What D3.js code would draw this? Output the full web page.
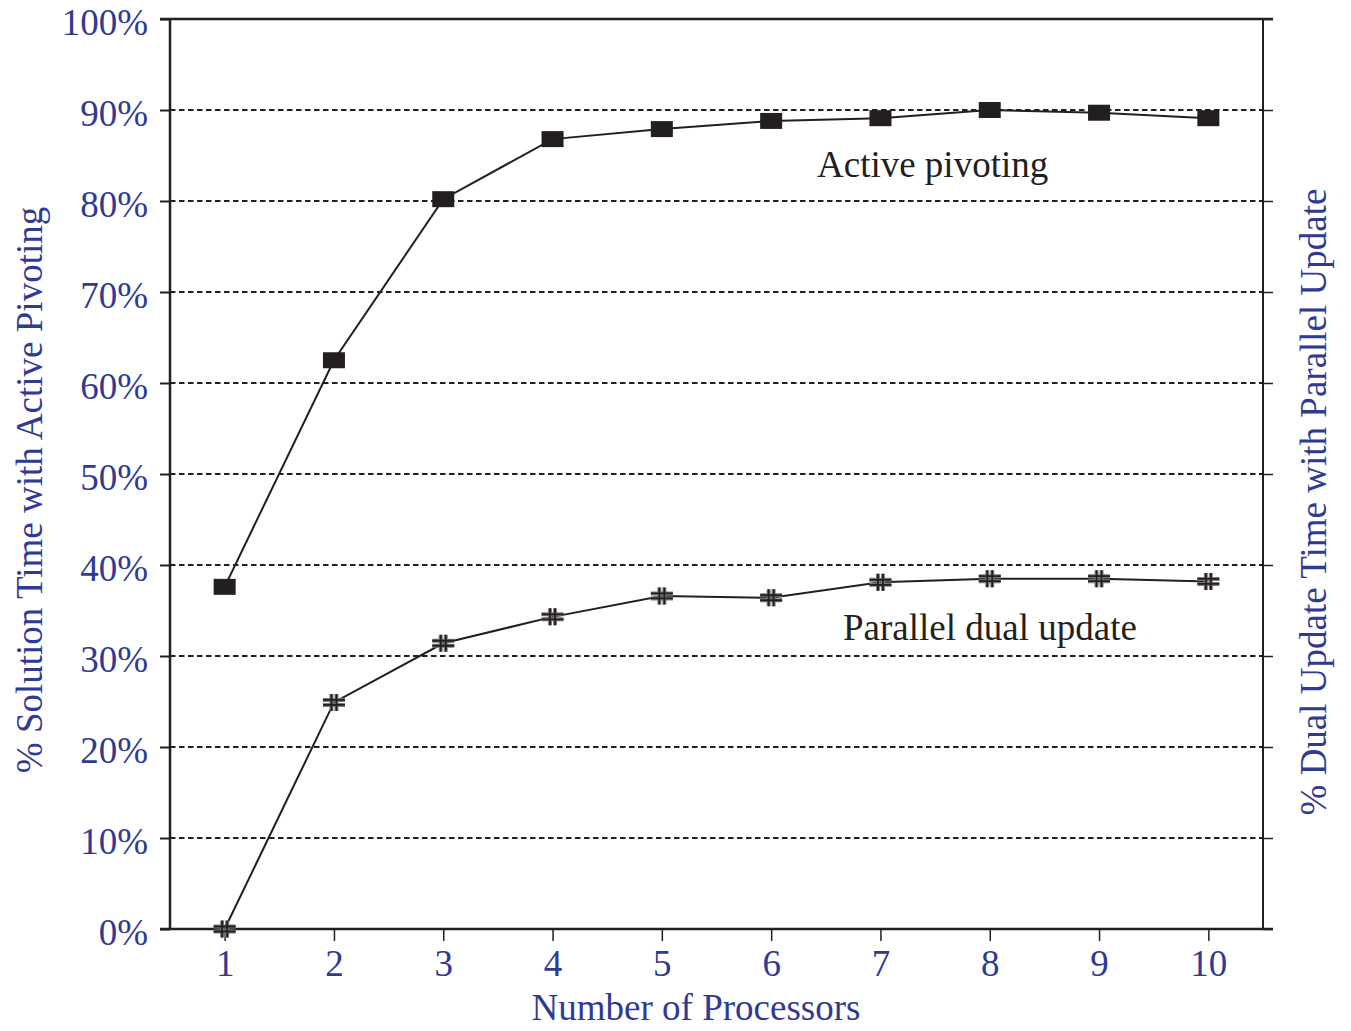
<!DOCTYPE html>
<html>
<head>
<meta charset="utf-8">
<script src="https://cdn.jsdelivr.net/npm/d3@7"></script>
<style>
  body { margin: 0; background: #fff; }
  text { font-family: "Liberation Serif", "Times New Roman", serif; }
</style>
</head>
<body>
<div id="d3-container"></div>
<script>
/**
 * CONSTANTS AND GLOBALS
 * */
const width = 1351,
  height = 1031,
  margin = { top: 19, bottom: 102, left: 170, right: 88 };

const ink = "#231f20",
  blue = "#2f3a94";

// DATA
const processors = [1, 2, 3, 4, 5, 6, 7, 8, 9, 10];
const activePivoting = [0.376, 0.625, 0.802, 0.868, 0.879, 0.888, 0.891, 0.900, 0.897, 0.891];
const parallelDual = [0.0, 0.249, 0.314, 0.343, 0.366, 0.364, 0.381, 0.385, 0.385, 0.382];
const yTicks = [0, 0.1, 0.2, 0.3, 0.4, 0.5, 0.6, 0.7, 0.8, 0.9, 1.0];

// SCALES
const xScale = d3.scaleLinear()
  .domain([0.5, 10.5])
  .range([margin.left, width - margin.right]);

const yScale = d3.scaleLinear()
  .domain([0, 1])
  .range([height - margin.bottom, margin.top]);

const svg = d3.select("#d3-container")
  .append("svg")
  .attr("width", width)
  .attr("height", height);

const x0 = xScale.range()[0], x1 = xScale.range()[1];
const yBottom = yScale(0), yTop = yScale(1);

// gridlines (dashed)
svg.append("g")
  .selectAll("line")
  .data(yTicks.filter(d => d > 0 && d < 1))
  .join("line")
  .attr("x1", x0)
  .attr("x2", x1)
  .attr("y1", d => yScale(d))
  .attr("y2", d => yScale(d))
  .attr("stroke", ink)
  .attr("stroke-width", 1.8)
  .attr("stroke-dasharray", "5.5,3.5");

// left axis
const yAxis = d3.axisLeft(yScale)
  .tickValues(yTicks)
  .tickSize(10)
  .tickFormat(d3.format(".0%"));

const gy = svg.append("g")
  .attr("transform", `translate(${x0},0)`)
  .call(yAxis);
gy.select(".domain").remove();
gy.selectAll(".tick line").attr("stroke", ink).attr("stroke-width", 2);
gy.selectAll(".tick text")
  .attr("x", -22)
  .attr("dy", "0.42em")
  .attr("fill", blue)
  .style("font-size", "37px")
  .style("font-family", "'Liberation Serif', serif");

// right axis ticks (no labels)
const yAxisR = d3.axisRight(yScale)
  .tickValues(yTicks)
  .tickSize(10)
  .tickFormat("");
const gyr = svg.append("g")
  .attr("transform", `translate(${x1},0)`)
  .call(yAxisR);
gyr.select(".domain").remove();
gyr.selectAll(".tick line").attr("stroke", ink).attr("stroke-width", 1.5);

// bottom axis
const xAxis = d3.axisBottom(xScale)
  .tickValues(processors)
  .tickSize(12)
  .tickFormat(d3.format("d"));
const gx = svg.append("g")
  .attr("transform", `translate(0,${yBottom})`)
  .call(xAxis);
gx.select(".domain").remove();
gx.selectAll(".tick line").attr("stroke", ink).attr("stroke-width", 1.5);
gx.selectAll(".tick text")
  .attr("y", 21)
  .attr("dy", "0.71em")
  .attr("fill", blue)
  .style("font-size", "37px")
  .style("font-family", "'Liberation Serif', serif");

// frame lines
svg.append("line")
  .attr("x1", x0 - 10).attr("x2", x1 + 10)
  .attr("y1", yTop).attr("y2", yTop)
  .attr("stroke", ink).attr("stroke-width", 2.5);
svg.append("line")
  .attr("x1", x0 - 10).attr("x2", x1 + 10)
  .attr("y1", yBottom).attr("y2", yBottom)
  .attr("stroke", ink).attr("stroke-width", 2.5);
svg.append("line")
  .attr("x1", x0).attr("x2", x0)
  .attr("y1", yTop).attr("y2", yBottom)
  .attr("stroke", ink).attr("stroke-width", 2.5);
svg.append("line")
  .attr("x1", x1).attr("x2", x1)
  .attr("y1", yTop).attr("y2", yBottom)
  .attr("stroke", ink).attr("stroke-width", 2);

// LINES
const line = d3.line()
  .x((d, i) => xScale(processors[i]))
  .y(d => yScale(d));

svg.append("path")
  .datum(activePivoting)
  .attr("d", line)
  .attr("fill", "none")
  .attr("stroke", ink)
  .attr("stroke-width", 2);

svg.append("path")
  .datum(parallelDual)
  .attr("d", line)
  .attr("fill", "none")
  .attr("stroke", ink)
  .attr("stroke-width", 2);

// square markers
svg.append("g")
  .selectAll("rect")
  .data(activePivoting)
  .join("rect")
  .attr("x", (d, i) => xScale(processors[i]) - 11)
  .attr("y", d => yScale(d) - 8)
  .attr("width", 22)
  .attr("height", 16)
  .attr("fill", ink);

// hash markers
const hash = "M-11,-2.5H11M-11,2.5H11M-2.5,-8.5V8.5M2.5,-8.5V8.5";
const hg = svg.append("g")
  .selectAll("g")
  .data(parallelDual)
  .join("g")
  .attr("transform", (d, i) => `translate(${xScale(processors[i])},${yScale(d)})`);
hg.append("path")
  .attr("d", hash)
  .attr("stroke", "#7d7a7b")
  .attr("stroke-width", 4)
  .attr("fill", "none");
hg.append("path")
  .attr("d", hash)
  .attr("stroke", ink)
  .attr("stroke-width", 1.8)
  .attr("fill", "none");

// annotations
svg.append("text")
  .attr("x", 817)
  .attr("y", 177)
  .attr("fill", ink)
  .style("font-size", "37px")
  .text("Active pivoting");

svg.append("text")
  .attr("x", 843)
  .attr("y", 640)
  .attr("fill", ink)
  .style("font-size", "37px")
  .text("Parallel dual update");

// axis titles
svg.append("text")
  .attr("x", 696)
  .attr("y", 1020)
  .attr("text-anchor", "middle")
  .attr("fill", blue)
  .style("font-size", "37px")
  .text("Number of Processors");

svg.append("text")
  .attr("transform", "translate(42,490) rotate(-90)")
  .attr("text-anchor", "middle")
  .attr("fill", blue)
  .style("font-size", "37px")
  .text("% Solution Time with Active Pivoting");

svg.append("text")
  .attr("transform", "translate(1326,502) rotate(-90)")
  .attr("text-anchor", "middle")
  .attr("fill", blue)
  .style("font-size", "37px")
  .text("% Dual Update Time with Parallel Update");
</script>
</body>
</html>
